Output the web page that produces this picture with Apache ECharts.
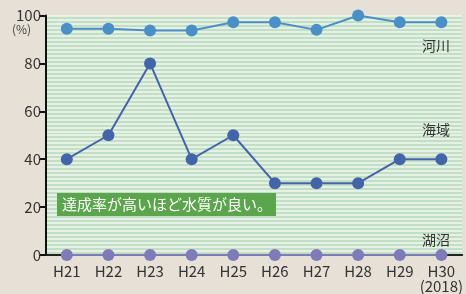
<!DOCTYPE html>
<html>
<head>
<meta charset="utf-8">
<script src="https://cdn.jsdelivr.net/npm/echarts@6/dist/echarts.min.js"></script>
<style>
  html, body { margin: 0; padding: 0; background: #e7e0d6; }
  #chart { width: 466px; height: 294px; }
</style>
</head>
<body>
<div id="chart"></div>
<script>
// 年度
const years = ['H21', 'H22', 'H23', 'H24', 'H25', 'H26', 'H27', 'H28', 'H29', 'H30']
// 環境基準達成率 (%)
const river = [94.5, 94.5, 93.7, 93.7, 97.2, 97.2, 94, 100, 97.2, 97.2]
const sea = [40, 50, 80, 40, 50, 30, 30, 30, 40, 40]
const lake = [0, 0, 0, 0, 0, 0, 0, 0, 0, 0]
const yTicks = [0, 20, 40, 60, 80, 100]

const font = '"Noto Sans CJK JP", "Noto Sans", sans-serif'
const chart = echarts.init(document.getElementById('chart'))

const mkSeries = (name, data, color, z) => ({
  name: name,
  type: 'line',
  data: data,
  symbol: 'circle',
  symbolSize: 12,
  z: z,
  lineStyle: {color: color, width: 2},
  itemStyle: {color: color},
  animation: false
})

chart.setOption({
  backgroundColor: '#e7e0d6',
  textStyle: {fontFamily: font},
  title: {
    text: '達成率が高いほど水質が良い。',
    left: 57,
    top: 193,
    backgroundColor: '#5ba64c',
    padding: [4, 4, 4, 5],
    z: 20,
    textStyle: {color: '#fff', fontSize: 15, fontWeight: 'normal', fontFamily: font}
  },
  grid: {
    left: 46, right: 2, top: 15.5, bottom: 38,
    show: true, backgroundColor: '#c2dfc6', borderWidth: 0
  },
  xAxis: {
    type: 'category',
    data: years,
    boundaryGap: true,
    axisLine: {lineStyle: {color: '#222', width: 2}},
    axisTick: {inside: true, interval: 0, length: 5, lineStyle: {color: '#222', width: 1.5}},
    axisLabel: {
      interval: 0,
      color: '#333', fontSize: 15, margin: 9, lineHeight: 15, fontFamily: font,
      formatter: v => v === 'H30' ? v + '\n(2018)' : v
    }
  },
  yAxis: [{
    type: 'value',
    min: yTicks[0], max: yTicks[yTicks.length - 1], interval: 20,
    axisLine: {show: true, lineStyle: {color: '#111', width: 2}},
    axisTick: {show: true, length: 6, lineStyle: {color: '#111', width: 2}},
    axisLabel: {color: '#333', fontSize: 15, margin: 5, fontFamily: font},
    splitLine: {show: false}
  }, {
    // 背景の縞
    type: 'value',
    position: 'left',
    min: 0, max: 60, interval: 1,
    axisLine: {show: false},
    axisTick: {show: false},
    axisLabel: {show: false},
    splitLine: {show: true, lineStyle: {color: '#f2f7f0', width: 1.5}}
  }],
  graphic: [
    {type: 'text', left: 12, top: 23, z: 100, style: {text: '(%)', fill: '#444', font: '12px ' + font}},
    {type: 'text', left: 422, top: 39, z: 100, style: {text: '河川', fill: '#333', font: '14px ' + font}},
    {type: 'text', left: 422, top: 123, z: 100, style: {text: '海域', fill: '#333', font: '14px ' + font}},
    {type: 'text', left: 422, top: 233, z: 100, style: {text: '湖沼', fill: '#333', font: '14px ' + font}}
  ],
  series: [
    mkSeries('湖沼', lake, '#7f7ab8', 3),
    mkSeries('海域', sea, '#4364a8', 4),
    mkSeries('河川', river, '#4a90c6', 5)
  ]
})
</script>
</body>
</html>
